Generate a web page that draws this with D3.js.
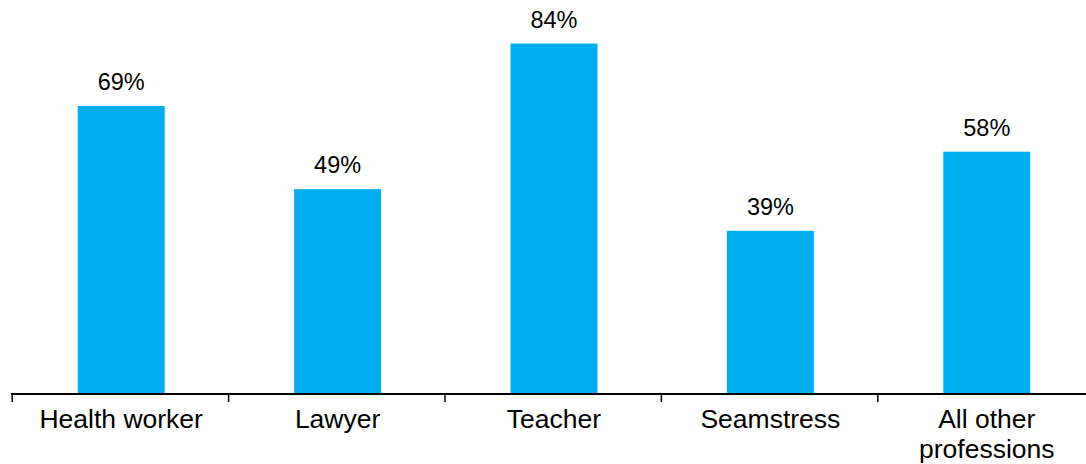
<!DOCTYPE html>
<html>
<head>
<meta charset="utf-8">
<script src="https://cdn.jsdelivr.net/npm/d3@7"></script>
<style>
  html, body { margin: 0; padding: 0; background: #fff; }
  svg { display: block; font-family: "Liberation Sans", Arial, sans-serif; }
</style>
</head>
<body>
<svg id="chart" width="1086" height="464"></svg>
<script>
// Share by profession (percent)
const categories = ["Health worker", "Lawyer", "Teacher", "Seamstress", "All other professions"];
const labelLines = [["Health worker"], ["Lawyer"], ["Teacher"], ["Seamstress"], ["All other", "professions"]];
const values = [69, 49, 84, 39, 58];

const svg = d3.select("#chart");
const baseY = 393;

const x = d3.scaleBand()
  .domain(categories)
  .range([13, 1095])
  .paddingInner(0.598)
  .paddingOuter(0.299);

const y = d3.scaleLinear()
  .domain([0, 100])
  .range([baseY, baseY - 416]);

// Bars
svg.append("g")
  .selectAll("rect")
  .data(categories)
  .join("rect")
  .attr("x", d => x(d))
  .attr("width", x.bandwidth())
  .attr("y", (d, i) => y(values[i]))
  .attr("height", (d, i) => y(0) - y(values[i]))
  .attr("fill", "#00AEEF");

// Value labels
svg.append("g")
  .selectAll("text")
  .data(categories)
  .join("text")
  .attr("x", d => x(d) + x.bandwidth() / 2)
  .attr("y", (d, i) => y(values[i]) - 16)
  .attr("text-anchor", "middle")
  .attr("font-size", 23.5)
  .attr("fill", "#000")
  .text((d, i) => values[i] + "%");

// Category axis: baseline with ticks between categories
const axis = svg.append("g");
axis.append("line")
  .attr("x1", 11).attr("x2", 1086)
  .attr("y1", baseY + 1).attr("y2", baseY + 1)
  .attr("stroke", "#000").attr("stroke-width", 2);

const step = x.step();
const boundaries = categories.map(c => x(c) + x.bandwidth() / 2 - step / 2);
boundaries.push(x(categories[categories.length - 1]) + x.bandwidth() / 2 + step / 2);
axis.selectAll("line.tick")
  .data(boundaries)
  .join("line")
  .attr("class", "tick")
  .attr("x1", d => d - 0.8).attr("x2", d => d - 0.8)
  .attr("y1", baseY).attr("y2", baseY + 9)
  .attr("stroke", "#000").attr("stroke-width", 1.5);

// Category labels
const labels = axis.selectAll("text.cat")
  .data(categories)
  .join("text")
  .attr("class", "cat")
  .attr("x", d => x(d) + x.bandwidth() / 2)
  .attr("y", 428)
  .attr("text-anchor", "middle")
  .attr("font-size", 26.5)
  .attr("fill", "#000");

labels.each(function (d, i) {
  d3.select(this).selectAll("tspan")
    .data(labelLines[i])
    .join("tspan")
    .attr("x", x(d) + x.bandwidth() / 2)
    .attr("dy", (t, j) => j === 0 ? 0 : 30)
    .text(t => t);
});
</script>
</body>
</html>
